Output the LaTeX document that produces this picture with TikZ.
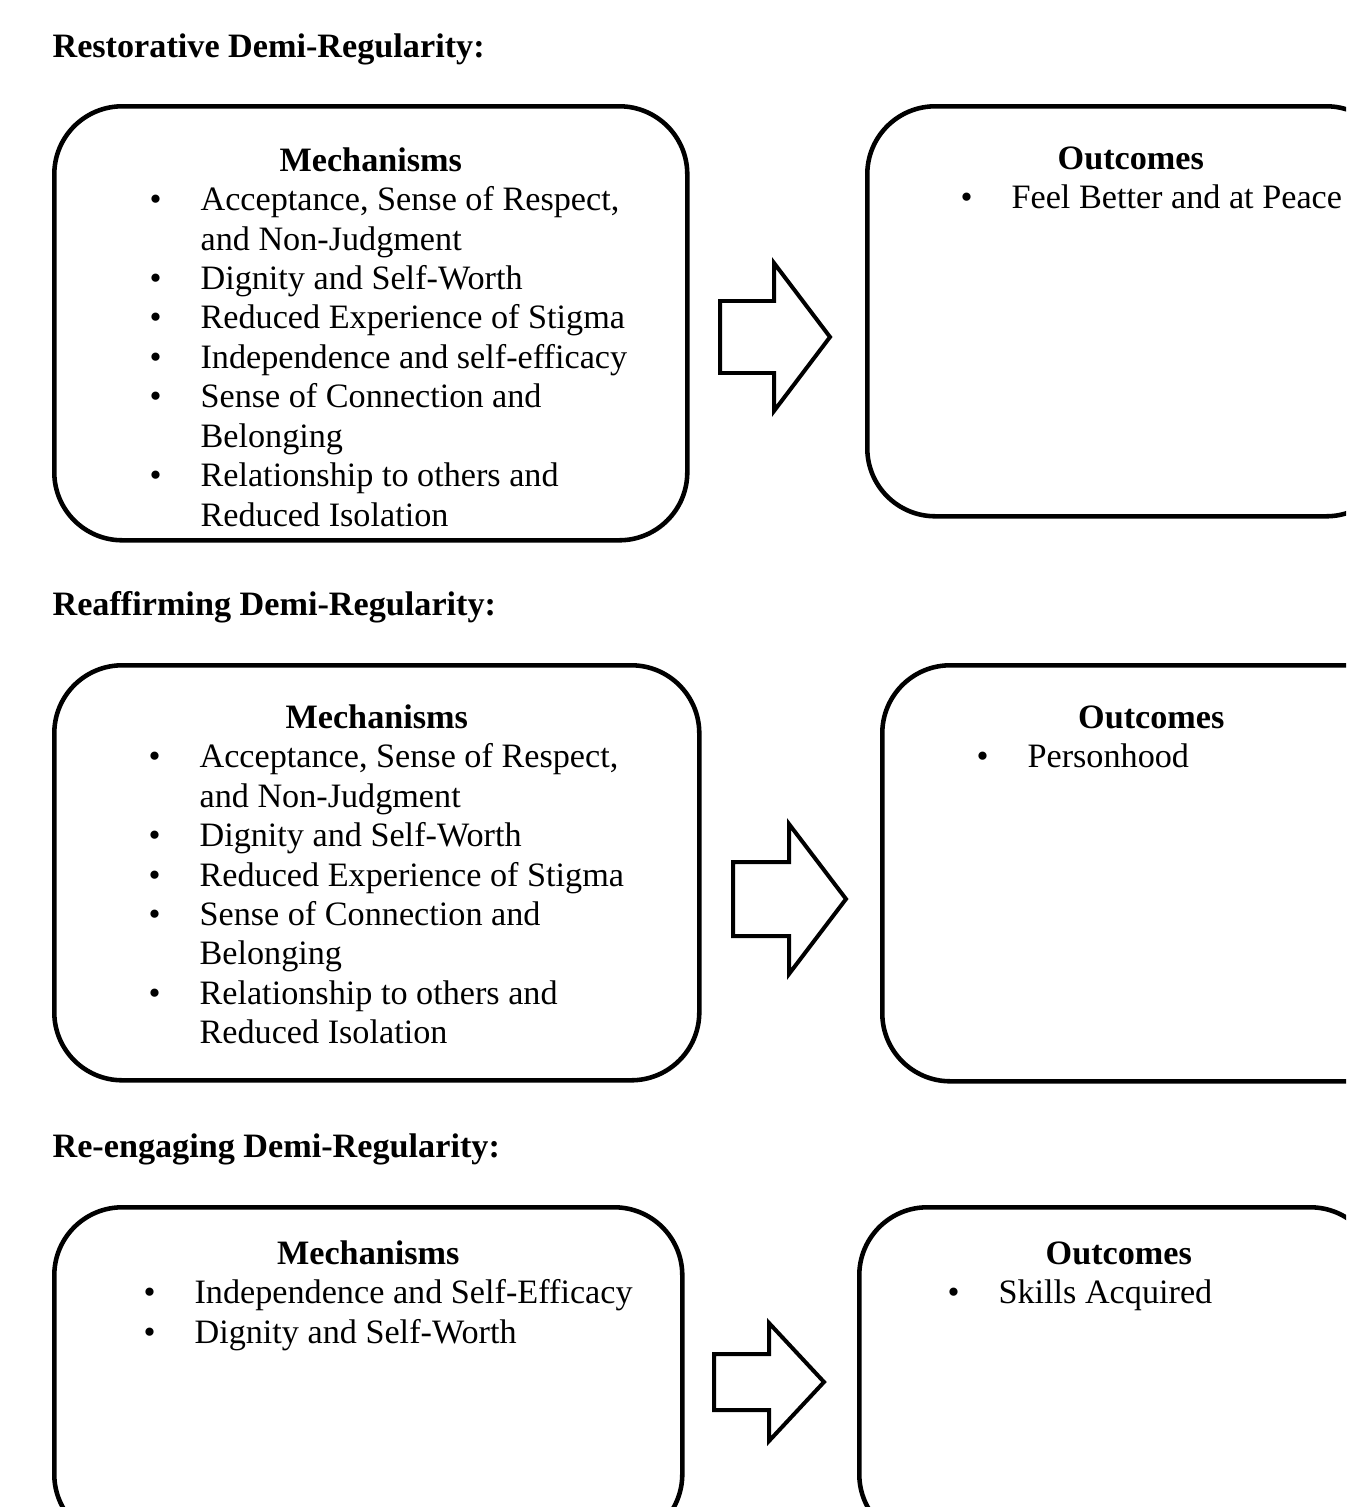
\documentclass[tikz,border=0pt]{standalone}
\usepackage{fontspec}
\setmainfont{Liberation Serif}
\usepackage{array}
\usetikzlibrary{positioning}
\newlength{\unitpx}
\setlength{\unitpx}{0.3509pt}

\begin{document}
\begin{tikzpicture}[
  x=\unitpx, y=-\unitpx,
  font=\fontsize{12}{13.86}\selectfont,
  heading/.style={anchor=base west, inner sep=0pt,
    font=\fontsize{12}{13.86}\selectfont\bfseries},
  panel/.style={draw=black, line width=1.6pt, anchor=north west,
    rounded corners=68\unitpx, inner sep=0pt},
  boxtitle/.style={anchor=base, inner sep=0pt,
    font=\fontsize{12}{13.86}\selectfont\bfseries},
  itemlist/.style={anchor=base west, inner sep=0pt, align=left},
  blockarrow/.style={draw=black, line width=1.4pt, line join=miter}
]
\useasboundingbox (0,0) rectangle (1346,1507);
\clip (0,0) rectangle (1346,1507);

% first demi-regularity
\node[heading] (restTitle) at (52,57) {Restorative Demi-Regularity:};
\node[panel, minimum width=633\unitpx, minimum height=434\unitpx]
  (restMech) at (52,104) {};
\node[boxtitle] (restMechHead) at ([yshift=-67\unitpx]restMech.north) {Mechanisms};
\node[itemlist] (restMechList)
  at ([xshift=97\unitpx,yshift=-39.5\unitpx]restMech.north west |- restMechHead.base)
  {\begin{tabular}[t]{@{}p{51\unitpx}@{}l@{}}
   \textbullet & Acceptance, Sense of Respect,\\
               & and Non-Judgment\\
   \textbullet & Dignity and Self-Worth\\
   \textbullet & Reduced Experience of Stigma\\
   \textbullet & Independence and self-efficacy\\
   \textbullet & Sense of Connection and\\
               & Belonging\\
   \textbullet & Relationship to others and\\
               & Reduced Isolation
   \end{tabular}};
\node[panel, minimum width=527\unitpx, minimum height=410\unitpx]
  (restOut) at (865,104) {};
\node[boxtitle] (restOutHead) at ([yshift=-65\unitpx]restOut.north) {Outcomes};
\node[itemlist] (restOutList)
  at ([xshift=95\unitpx,yshift=-39.5\unitpx]restOut.north west |- restOutHead.base)
  {\begin{tabular}[t]{@{}p{51\unitpx}@{}l@{}}
   \textbullet & Feel Better and at Peace
   \end{tabular}};
\draw[blockarrow] (720,301) -- (774,301) -- (774,263) -- (830,337)
  -- (774,411) -- (774,373) -- (720,373) -- cycle;

% second demi-regularity
\node[heading] (reafTitle) at (52,615) {Reaffirming Demi-Regularity:};
\node[panel, minimum width=645\unitpx, minimum height=415\unitpx]
  (reafMech) at (52,663) {};
\node[boxtitle] (reafMechHead) at ([yshift=-65\unitpx]reafMech.north) {Mechanisms};
\node[itemlist] (reafMechList)
  at ([xshift=96\unitpx,yshift=-39.5\unitpx]reafMech.north west |- reafMechHead.base)
  {\begin{tabular}[t]{@{}p{51\unitpx}@{}l@{}}
   \textbullet & Acceptance, Sense of Respect,\\
               & and Non-Judgment\\
   \textbullet & Dignity and Self-Worth\\
   \textbullet & Reduced Experience of Stigma\\
   \textbullet & Sense of Connection and\\
               & Belonging\\
   \textbullet & Relationship to others and\\
               & Reduced Isolation
   \end{tabular}};
\node[panel, minimum width=538\unitpx, minimum height=416\unitpx]
  (reafOut) at (880,663) {};
\node[boxtitle] (reafOutHead) at ([yshift=-65\unitpx]reafOut.north) {Outcomes};
\node[itemlist] (reafOutList)
  at ([xshift=96\unitpx,yshift=-39.5\unitpx]reafOut.north west |- reafOutHead.base)
  {\begin{tabular}[t]{@{}p{51\unitpx}@{}l@{}}
   \textbullet & Personhood
   \end{tabular}};
\draw[blockarrow] (733,862) -- (789,862) -- (789,824) -- (846,899)
  -- (789,974) -- (789,936) -- (733,936) -- cycle;

% third demi-regularity
\node[heading] (reenTitle) at (52,1157) {Re-engaging Demi-Regularity:};
\node[panel, minimum width=628\unitpx, minimum height=335\unitpx]
  (reenMech) at (52,1205) {};
\node[boxtitle] (reenMechHead) at ([yshift=-59\unitpx]reenMech.north) {Mechanisms};
\node[itemlist] (reenMechList)
  at ([xshift=91\unitpx,yshift=-39.5\unitpx]reenMech.north west |- reenMechHead.base)
  {\begin{tabular}[t]{@{}p{51\unitpx}@{}l@{}}
   \textbullet & Independence and Self-Efficacy\\
   \textbullet & Dignity and Self-Worth
   \end{tabular}};
\node[panel, minimum width=519\unitpx, minimum height=335\unitpx]
  (reenOut) at (857,1205) {};
\node[boxtitle] (reenOutHead) at ([yshift=-59\unitpx]reenOut.north) {Outcomes};
\node[itemlist] (reenOutList)
  at ([xshift=90\unitpx,yshift=-39.5\unitpx]reenOut.north west |- reenOutHead.base)
  {\begin{tabular}[t]{@{}p{51\unitpx}@{}l@{}}
   \textbullet & Skills Acquired
   \end{tabular}};
\draw[blockarrow] (714,1354) -- (769,1354) -- (769,1323) -- (824,1382)
  -- (769,1441) -- (769,1410) -- (714,1410) -- cycle;
\end{tikzpicture}
\end{document}
